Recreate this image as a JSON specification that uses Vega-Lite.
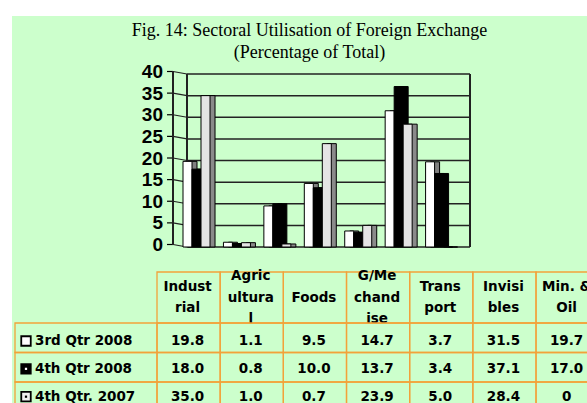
{
  "$schema": "https://vega.github.io/schema/vega-lite/v6.json",
  "width": 575,
  "height": 387,
  "autosize": {"type": "none"},
  "padding": {"left": 12, "top": 16, "right": 0, "bottom": 0},
  "background": "white",
  "title": {
    "text": ["Fig. 14: Sectoral Utilisation of Foreign Exchange", "(Percentage of Total)"],
    "font": "Liberation Serif",
    "fontSize": 18,
    "fontWeight": "normal",
    "color": "black",
    "anchor": "middle",
    "frame": "group",
    "orient": "top",
    "baseline": "top",
    "lineHeight": 22,
    "offset": 0,
    "dx": 10,
    "dy": 46
  },
  "config": {
    "view": {"fill": "#CCFFCC", "stroke": null},
    "text": {"font": "DejaVu Sans", "fontWeight": "bold", "fontSize": 13.5, "color": "black"}
  },
  "datasets": {
    "vals": [
      {"category": "Industrial", "series": "3rd Qtr 2008", "value": 19.8},
      {"category": "Industrial", "series": "4th Qtr 2008", "value": 18.0},
      {"category": "Industrial", "series": "4th Qtr. 2007", "value": 35.0},
      {"category": "Agricultural", "series": "3rd Qtr 2008", "value": 1.1},
      {"category": "Agricultural", "series": "4th Qtr 2008", "value": 0.8},
      {"category": "Agricultural", "series": "4th Qtr. 2007", "value": 1.0},
      {"category": "Foods", "series": "3rd Qtr 2008", "value": 9.5},
      {"category": "Foods", "series": "4th Qtr 2008", "value": 10.0},
      {"category": "Foods", "series": "4th Qtr. 2007", "value": 0.7},
      {"category": "G/Merchandise", "series": "3rd Qtr 2008", "value": 14.7},
      {"category": "G/Merchandise", "series": "4th Qtr 2008", "value": 13.7},
      {"category": "G/Merchandise", "series": "4th Qtr. 2007", "value": 23.9},
      {"category": "Transport", "series": "3rd Qtr 2008", "value": 3.7},
      {"category": "Transport", "series": "4th Qtr 2008", "value": 3.4},
      {"category": "Transport", "series": "4th Qtr. 2007", "value": 5.0},
      {"category": "Invisibles", "series": "3rd Qtr 2008", "value": 31.5},
      {"category": "Invisibles", "series": "4th Qtr 2008", "value": 37.1},
      {"category": "Invisibles", "series": "4th Qtr. 2007", "value": 28.4},
      {"category": "Min. & Oil", "series": "3rd Qtr 2008", "value": 19.7},
      {"category": "Min. & Oil", "series": "4th Qtr 2008", "value": 17.0},
      {"category": "Min. & Oil", "series": "4th Qtr. 2007", "value": 0}
    ],
    "cats": [
      {"category": "Industrial", "header": "Indust\nrial"},
      {"category": "Agricultural", "header": "Agric\nultura\nl"},
      {"category": "Foods", "header": "Foods"},
      {"category": "G/Merchandise", "header": "G/Me\nchand\nise"},
      {"category": "Transport", "header": "Trans\nport"},
      {"category": "Invisibles", "header": "Invisi\nbles"},
      {"category": "Min. & Oil", "header": "Min. &\nOil"}
    ],
    "series": [
      {"series": "3rd Qtr 2008"},
      {"series": "4th Qtr 2008"},
      {"series": "4th Qtr. 2007"}
    ],
    "grid": [
      {"v": 0}, {"v": 5}, {"v": 10}, {"v": 15}, {"v": 20}, {"v": 25}, {"v": 30}, {"v": 35}, {"v": 40}
    ]
  },
  "layer": [
    {
      "resolve": {"scale": {"x": "independent", "xOffset": "independent"}},
      "layer": [
        {
          "data": {"name": "grid"},
          "mark": {"type": "rule", "color": "#222222", "strokeWidth": 1.5},
          "encoding": {
            "x": {"datum": 0, "type": "quantitative", "scale": {"domain": [-0.346, 7], "range": [161, 458]}, "axis": null},
            "x2": {"datum": 7},
            "y": {"field": "v", "type": "quantitative", "scale": {"domain": [0, 40], "range": [231, 58]}, "axis": null}
          }
        },
        {
          "data": {"name": "grid"},
          "mark": {"type": "rule", "color": "#222222", "strokeWidth": 1.2, "yOffset": -2.5},
          "encoding": {
            "x": {"datum": -0.346, "type": "quantitative", "scale": {"domain": [-0.346, 7], "range": [161, 458]}, "axis": null},
            "x2": {"datum": 0},
            "y": {"field": "v", "type": "quantitative", "axis": null},
            "y2": {"field": "v"}
          }
        },
        {
          "data": {"name": "grid"},
          "mark": {"type": "rule", "color": "#000000", "strokeWidth": 1.2, "yOffset": -2.5, "y2Offset": -2.5},
          "encoding": {
            "x": {"datum": -0.494, "type": "quantitative", "scale": {"domain": [-0.346, 7], "range": [161, 458]}, "axis": null},
            "x2": {"datum": -0.346},
            "y": {"field": "v", "type": "quantitative", "axis": null},
            "y2": {"field": "v"}
          }
        },
        {
          "data": {"name": "grid"},
          "mark": {"type": "text", "font": "Liberation Sans", "fontSize": 19, "fontWeight": "bold", "align": "right", "baseline": "middle", "dx": -10, "dy": -2, "color": "black"},
          "encoding": {
            "x": {"datum": -0.346, "type": "quantitative", "scale": {"domain": [-0.346, 7], "range": [161, 458]}, "axis": null},
            "y": {"field": "v", "type": "quantitative", "axis": null},
            "text": {"field": "v", "type": "quantitative"}
          }
        },
        {
          "data": {"name": "grid"},
          "mark": {"type": "rule", "color": "#222222", "strokeWidth": 1.2, "yOffset": -2.5, "y2Offset": -2.5},
          "encoding": {
            "x": {"datum": -0.346, "type": "quantitative", "scale": {"domain": [-0.346, 7], "range": [161, 458]}, "axis": null},
            "y": {"datum": 0, "type": "quantitative", "axis": null},
            "y2": {"datum": 40}
          }
        },
        {
          "data": {"name": "grid"},
          "mark": {"type": "rule", "color": "#222222", "strokeWidth": 1.5},
          "encoding": {
            "x": {"datum": 0, "type": "quantitative", "scale": {"domain": [-0.346, 7], "range": [161, 458]}, "axis": null},
            "y": {"datum": 0, "type": "quantitative", "axis": null},
            "y2": {"datum": 40}
          }
        },
        {
          "data": {"name": "grid"},
          "mark": {"type": "rule", "color": "#222222", "strokeWidth": 1.5},
          "encoding": {
            "x": {"datum": 7, "type": "quantitative", "scale": {"domain": [-0.346, 7], "range": [161, 458]}, "axis": null},
            "y": {"datum": 0, "type": "quantitative", "axis": null},
            "y2": {"datum": 40}
          }
        },
        {
          "data": {"name": "vals"},
          "transform": [{"filter": {"field": "series", "equal": "3rd Qtr 2008"}}],
          "mark": {"type": "bar", "fill": "#808080", "stroke": "black", "strokeWidth": 1},
          "encoding": {
            "x": {"field": "category", "type": "nominal", "scale": {"type": "band", "domain": ["Industrial", "Agricultural", "Foods", "G/Merchandise", "Transport", "Invisibles", "Min. & Oil"], "range": [164.3, 447.3], "paddingInner": 0, "paddingOuter": 0}, "axis": null},
            "xOffset": {"field": "series", "type": "nominal", "scale": {"domain": ["3rd Qtr 2008", "4th Qtr 2008", "4th Qtr. 2007"], "range": [5, 45.43], "paddingInner": 0, "paddingOuter": 0.746}},
            "y": {"field": "value", "type": "quantitative", "axis": null}
          }
        },
        {
          "data": {"name": "vals"},
          "transform": [{"filter": {"field": "series", "equal": "3rd Qtr 2008"}}],
          "mark": {"type": "bar", "fill": "#ffffff", "stroke": "black", "strokeWidth": 1},
          "encoding": {
            "x": {"field": "category", "type": "nominal", "scale": {"type": "band", "domain": ["Industrial", "Agricultural", "Foods", "G/Merchandise", "Transport", "Invisibles", "Min. & Oil"], "range": [164.3, 447.3], "paddingInner": 0, "paddingOuter": 0}, "axis": null},
            "xOffset": {"field": "series", "type": "nominal", "scale": {"domain": ["3rd Qtr 2008", "4th Qtr 2008", "4th Qtr. 2007"], "range": [0, 40.43], "paddingInner": 0, "paddingOuter": 0.746}},
            "y": {"field": "value", "type": "quantitative", "axis": null}
          }
        },
        {
          "data": {"name": "vals"},
          "transform": [{"filter": {"field": "series", "equal": "4th Qtr 2008"}}],
          "mark": {"type": "bar", "fill": "#000000", "stroke": "black", "strokeWidth": 1},
          "encoding": {
            "x": {"field": "category", "type": "nominal", "scale": {"type": "band", "domain": ["Industrial", "Agricultural", "Foods", "G/Merchandise", "Transport", "Invisibles", "Min. & Oil"], "range": [164.3, 447.3], "paddingInner": 0, "paddingOuter": 0}, "axis": null},
            "xOffset": {"field": "series", "type": "nominal", "scale": {"domain": ["3rd Qtr 2008", "4th Qtr 2008", "4th Qtr. 2007"], "range": [5, 45.43], "paddingInner": 0, "paddingOuter": 0.746}},
            "y": {"field": "value", "type": "quantitative", "axis": null}
          }
        },
        {
          "data": {"name": "vals"},
          "transform": [{"filter": {"field": "series", "equal": "4th Qtr 2008"}}],
          "mark": {"type": "bar", "fill": "#000000", "stroke": "black", "strokeWidth": 1},
          "encoding": {
            "x": {"field": "category", "type": "nominal", "scale": {"type": "band", "domain": ["Industrial", "Agricultural", "Foods", "G/Merchandise", "Transport", "Invisibles", "Min. & Oil"], "range": [164.3, 447.3], "paddingInner": 0, "paddingOuter": 0}, "axis": null},
            "xOffset": {"field": "series", "type": "nominal", "scale": {"domain": ["3rd Qtr 2008", "4th Qtr 2008", "4th Qtr. 2007"], "range": [0, 40.43], "paddingInner": 0, "paddingOuter": 0.746}},
            "y": {"field": "value", "type": "quantitative", "axis": null}
          }
        },
        {
          "data": {"name": "vals"},
          "transform": [{"filter": {"field": "series", "equal": "4th Qtr. 2007"}}],
          "mark": {"type": "bar", "fill": "#8a8a8a", "stroke": "black", "strokeWidth": 1},
          "encoding": {
            "x": {"field": "category", "type": "nominal", "scale": {"type": "band", "domain": ["Industrial", "Agricultural", "Foods", "G/Merchandise", "Transport", "Invisibles", "Min. & Oil"], "range": [164.3, 447.3], "paddingInner": 0, "paddingOuter": 0}, "axis": null},
            "xOffset": {"field": "series", "type": "nominal", "scale": {"domain": ["3rd Qtr 2008", "4th Qtr 2008", "4th Qtr. 2007"], "range": [5, 45.43], "paddingInner": 0, "paddingOuter": 0.746}},
            "y": {"field": "value", "type": "quantitative", "axis": null}
          }
        },
        {
          "data": {"name": "vals"},
          "transform": [{"filter": {"field": "series", "equal": "4th Qtr. 2007"}}],
          "mark": {"type": "bar", "fill": "#e4e4e4", "stroke": "black", "strokeWidth": 1},
          "encoding": {
            "x": {"field": "category", "type": "nominal", "scale": {"type": "band", "domain": ["Industrial", "Agricultural", "Foods", "G/Merchandise", "Transport", "Invisibles", "Min. & Oil"], "range": [164.3, 447.3], "paddingInner": 0, "paddingOuter": 0}, "axis": null},
            "xOffset": {"field": "series", "type": "nominal", "scale": {"domain": ["3rd Qtr 2008", "4th Qtr 2008", "4th Qtr. 2007"], "range": [0, 40.43], "paddingInner": 0, "paddingOuter": 0.746}},
            "y": {"field": "value", "type": "quantitative", "axis": null}
          }
        }
      ]
    },
    {
      "resolve": {"scale": {"x": "independent", "y": "independent", "fill": "independent"}},
      "layer": [
        {
          "data": {"name": "cats"},
          "mark": {"type": "rect", "fillOpacity": 0, "stroke": "#F2A23A", "strokeWidth": 1.3},
          "encoding": {
            "x": {"field": "category", "type": "nominal", "scale": {"type": "band", "domain": ["Industrial", "Agricultural", "Foods", "G/Merchandise", "Transport", "Invisibles", "Min. & Oil"], "range": [145, 587.2], "paddingInner": 0, "paddingOuter": 0}, "axis": null},
            "y": {"datum": "header", "type": "nominal", "scale": {"type": "band", "domain": ["header"], "range": [256, 307], "paddingInner": 0, "paddingOuter": 0}, "axis": null}
          }
        },
        {
          "data": {"name": "cats"},
          "transform": [{"filter": {"field": "category", "oneOf": ["Foods"]}}],
          "mark": {"type": "text", "lineBreak": "\n", "lineHeight": 21.5, "baseline": "middle", "align": "center", "dx": -1},
          "encoding": {
            "x": {"field": "category", "type": "nominal", "scale": {"type": "band", "domain": ["Industrial", "Agricultural", "Foods", "G/Merchandise", "Transport", "Invisibles", "Min. & Oil"], "range": [145, 587.2], "paddingInner": 0, "paddingOuter": 0}, "axis": null},
            "y": {"datum": "header", "type": "nominal", "scale": {"type": "band", "domain": ["header"], "range": [256, 307], "paddingInner": 0, "paddingOuter": 0}, "axis": null},
            "text": {"field": "header"}
          }
        },
        {
          "data": {"name": "cats"},
          "transform": [{"filter": {"field": "category", "oneOf": ["Industrial", "Transport", "Invisibles", "Min. & Oil"]}}],
          "mark": {"type": "text", "lineBreak": "\n", "lineHeight": 21.5, "baseline": "middle", "align": "center", "dx": -1, "dy": -10.75},
          "encoding": {
            "x": {"field": "category", "type": "nominal", "scale": {"type": "band", "domain": ["Industrial", "Agricultural", "Foods", "G/Merchandise", "Transport", "Invisibles", "Min. & Oil"], "range": [145, 587.2], "paddingInner": 0, "paddingOuter": 0}, "axis": null},
            "y": {"datum": "header", "type": "nominal", "scale": {"type": "band", "domain": ["header"], "range": [256, 307], "paddingInner": 0, "paddingOuter": 0}, "axis": null},
            "text": {"field": "header"}
          }
        },
        {
          "data": {"name": "cats"},
          "transform": [{"filter": {"field": "category", "oneOf": ["Agricultural", "G/Merchandise"]}}],
          "mark": {"type": "text", "lineBreak": "\n", "lineHeight": 21.5, "baseline": "middle", "align": "center", "dx": -1, "dy": -21.5},
          "encoding": {
            "x": {"field": "category", "type": "nominal", "scale": {"type": "band", "domain": ["Industrial", "Agricultural", "Foods", "G/Merchandise", "Transport", "Invisibles", "Min. & Oil"], "range": [145, 587.2], "paddingInner": 0, "paddingOuter": 0}, "axis": null},
            "y": {"datum": "header", "type": "nominal", "scale": {"type": "band", "domain": ["header"], "range": [256, 307], "paddingInner": 0, "paddingOuter": 0}, "axis": null},
            "text": {"field": "header"}
          }
        },
        {
          "data": {"name": "vals"},
          "mark": {"type": "rect", "fillOpacity": 0, "stroke": "#F2A23A", "strokeWidth": 1.3},
          "encoding": {
            "x": {"field": "category", "type": "nominal", "scale": {"type": "band", "domain": ["Industrial", "Agricultural", "Foods", "G/Merchandise", "Transport", "Invisibles", "Min. & Oil"], "range": [145, 587.2], "paddingInner": 0, "paddingOuter": 0}, "axis": null},
            "y": {"field": "series", "type": "nominal", "scale": {"type": "band", "domain": ["3rd Qtr 2008", "4th Qtr 2008", "4th Qtr. 2007"], "range": [307, 395.5], "paddingInner": 0, "paddingOuter": 0}, "axis": null}
          }
        },
        {
          "data": {"name": "vals"},
          "mark": {"type": "text", "baseline": "middle", "align": "center", "dx": -1},
          "encoding": {
            "x": {"field": "category", "type": "nominal", "scale": {"type": "band", "domain": ["Industrial", "Agricultural", "Foods", "G/Merchandise", "Transport", "Invisibles", "Min. & Oil"], "range": [145, 587.2], "paddingInner": 0, "paddingOuter": 0}, "axis": null},
            "y": {"field": "series", "type": "nominal", "scale": {"type": "band", "domain": ["3rd Qtr 2008", "4th Qtr 2008", "4th Qtr. 2007"], "range": [311.1, 394.6], "paddingInner": 0, "paddingOuter": 0}, "axis": null},
            "text": {"condition": {"test": "datum.value === 0", "value": "0"}, "field": "value", "type": "quantitative", "format": ".1f"}
          }
        },
        {
          "data": {"name": "series"},
          "mark": {"type": "rect", "fillOpacity": 0, "stroke": "#F2A23A", "strokeWidth": 1.3},
          "encoding": {
            "x": {"datum": "label", "type": "nominal", "scale": {"type": "band", "domain": ["label"], "range": [3, 145], "paddingInner": 0, "paddingOuter": 0}, "axis": null},
            "y": {"field": "series", "type": "nominal", "scale": {"type": "band", "domain": ["3rd Qtr 2008", "4th Qtr 2008", "4th Qtr. 2007"], "range": [307, 395.5], "paddingInner": 0, "paddingOuter": 0}, "axis": null}
          }
        },
        {
          "data": {"name": "series"},
          "mark": {"type": "text", "baseline": "middle", "align": "left", "dx": 20},
          "encoding": {
            "x": {"datum": "label", "type": "nominal", "bandPosition": 0, "scale": {"type": "band", "domain": ["label"], "range": [3, 145], "paddingInner": 0, "paddingOuter": 0}, "axis": null},
            "y": {"field": "series", "type": "nominal", "scale": {"type": "band", "domain": ["3rd Qtr 2008", "4th Qtr 2008", "4th Qtr. 2007"], "range": [311.1, 394.6], "paddingInner": 0, "paddingOuter": 0}, "axis": null},
            "text": {"field": "series"}
          }
        },
        {
          "data": {"name": "series"},
          "mark": {"type": "point", "shape": "square", "size": 90, "filled": true, "stroke": "black", "strokeWidth": 1.8, "opacity": 1, "xOffset": 11},
          "encoding": {
            "x": {"datum": "label", "type": "nominal", "bandPosition": 0, "scale": {"type": "band", "domain": ["label"], "range": [3, 145], "paddingInner": 0, "paddingOuter": 0}, "axis": null},
            "y": {"field": "series", "type": "nominal", "scale": {"type": "band", "domain": ["3rd Qtr 2008", "4th Qtr 2008", "4th Qtr. 2007"], "range": [311.1, 394.6], "paddingInner": 0, "paddingOuter": 0}, "axis": null},
            "fill": {"field": "series", "type": "nominal", "scale": {"domain": ["3rd Qtr 2008", "4th Qtr 2008", "4th Qtr. 2007"], "range": ["#ffffff", "#000000", "#f0f0f0"]}, "legend": null}
          }
        },
        {
          "data": {"name": "series"},
          "transform": [{"filter": {"field": "series", "oneOf": ["4th Qtr 2008", "4th Qtr. 2007"]}}],
          "mark": {"type": "point", "shape": "square", "size": 5, "filled": true, "opacity": 1, "xOffset": 11},
          "encoding": {
            "x": {"datum": "label", "type": "nominal", "bandPosition": 0, "scale": {"type": "band", "domain": ["label"], "range": [3, 145], "paddingInner": 0, "paddingOuter": 0}, "axis": null},
            "y": {"field": "series", "type": "nominal", "scale": {"type": "band", "domain": ["3rd Qtr 2008", "4th Qtr 2008", "4th Qtr. 2007"], "range": [311.1, 394.6], "paddingInner": 0, "paddingOuter": 0}, "axis": null},
            "fill": {"field": "series", "type": "nominal", "scale": {"domain": ["4th Qtr 2008", "4th Qtr. 2007"], "range": ["#ffffff", "#000000"]}, "legend": null}
          }
        }
      ]
    }
  ],
  "resolve": {"scale": {"x": "independent", "y": "independent"}}
}
